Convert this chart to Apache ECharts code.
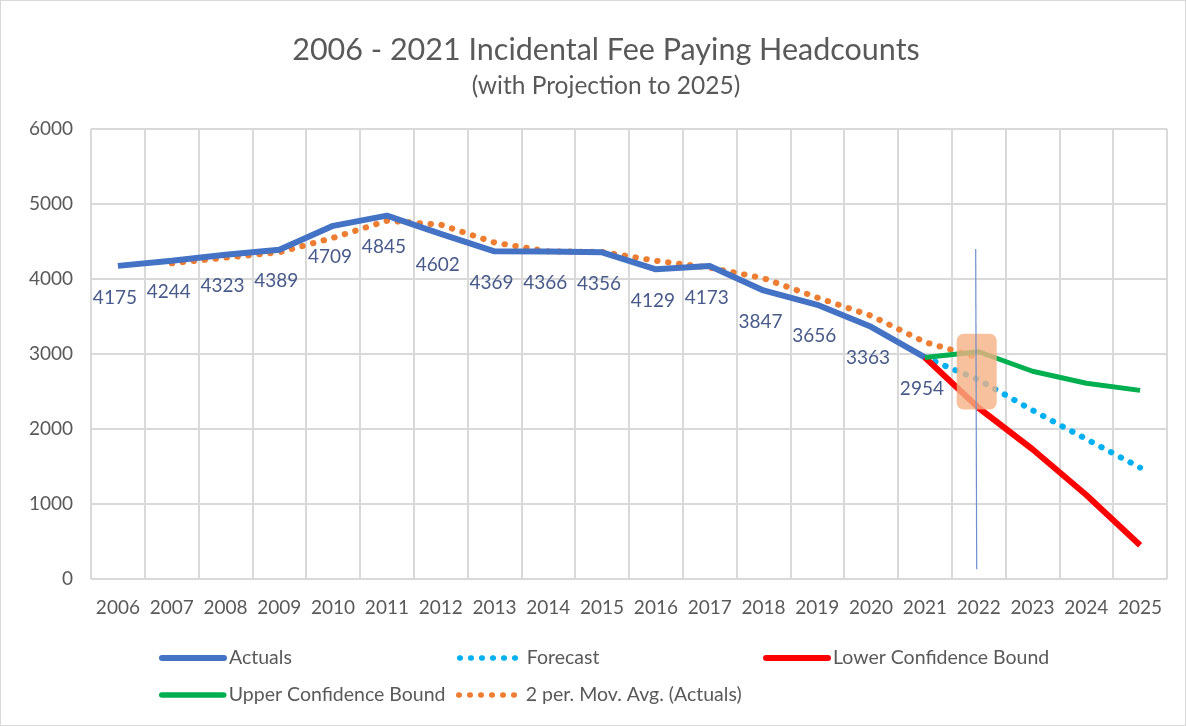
<!DOCTYPE html>
<html>
<head>
<meta charset="utf-8">
<script src="https://cdn.jsdelivr.net/npm/echarts@6/dist/echarts.min.js"></script>
<style>
    * {
        margin: 0;
        padding: 0;
    }
    body {
        background: #ffffff;
    }
    #chart {
        width: 1186px;
        height: 726px;
        box-sizing: border-box;
        border: 1px solid #d9d9d9;
    }
</style>
</head>
<body>
<div id="chart"></div>
<script>
// years on the category axis
const years = ['2006', '2007', '2008', '2009', '2010', '2011', '2012', '2013', '2014', '2015',
    '2016', '2017', '2018', '2019', '2020', '2021', '2022', '2023', '2024', '2025'];

// actual headcounts 2006 - 2021
const actuals = [4175, 4244, 4323, 4389, 4709, 4845, 4602, 4369, 4366, 4356,
    4129, 4173, 3847, 3656, 3363, 2954];

// projection years and values
const projYears = ['2021', '2022', '2023', '2024', '2025'];
const forecast = [2954, 2655, 2250, 1865, 1485];
const lowerBound = [2954, 2280, 1730, 1120, 450];
const upperBound = [2954, 3030, 2770, 2610, 2515];

// 2 period moving average, 2007 - 2022
const maYears = ['2007', '2008', '2009', '2010', '2011', '2012', '2013', '2014', '2015', '2016',
    '2017', '2018', '2019', '2020', '2021', '2022'];
const movingAvg = [4210, 4284, 4356, 4549, 4777, 4724, 4486, 4368, 4361, 4243,
    4151, 4010, 3752, 3510, 3159, 2950];

// highlight box and marker line at 2022
const markYear = '2022';
const boxRange = [3270, 2260];
const markerRange = [4400, 130];

const yTicks = [0, 1000, 2000, 3000, 4000, 5000, 6000];

const FONT = 'Lato';
const GREY = '#595959';
const DOTS = [0.5, 10.5];

const pairs = (xs, vs) => xs.map((x, i) => [x, vs[i]]);

const chart = echarts.init(document.getElementById('chart'));

const legendAt = (name, left, top, width) => ({
    data: [name],
    left: left,
    top: top,
    padding: 0,
    itemWidth: 62,
    itemHeight: 14,
    itemStyle: { opacity: 0 },
    lineStyle: { width: width, cap: 'round' },
    textStyle: { fontFamily: FONT, fontSize: 19.5, color: GREY },
    selectedMode: false
});

const option = {
    backgroundColor: '#ffffff',
    animation: false,
    title: {
        text: '2006 - 2021 Incidental Fee Paying Headcounts',
        subtext: '(with Projection to 2025)',
        left: 600,
        textAlign: 'center',
        top: 29,
        itemGap: 8,
        textStyle: { fontFamily: FONT, fontSize: 30.5, fontWeight: 'normal', color: GREY },
        subtextStyle: { fontFamily: FONT, fontSize: 24.5, color: GREY }
    },
    legend: [
        legendAt('Actuals', 158, 647, 6),
        legendAt('Forecast', 456, 647, 5.5),
        legendAt('Lower Confidence Bound', 762, 647, 6),
        legendAt('Upper Confidence Bound', 158, 684, 5.5),
        legendAt('2 per. Mov. Avg. (Actuals)', 455, 684, 5.5)
    ],
    grid: {
        left: 90,
        right: 18,
        top: 128,
        bottom: 146
    },
    xAxis: {
        type: 'category',
        data: years,
        boundaryGap: true,
        axisTick: { show: false },
        axisLine: { show: false },
        axisLabel: { fontFamily: FONT, fontSize: 19, color: GREY, margin: 19, interval: 0 },
        splitLine: { show: true, interval: 0, lineStyle: { color: '#d9d9d9', width: 2 } }
    },
    yAxis: {
        type: 'value',
        min: yTicks[0],
        max: yTicks[yTicks.length - 1],
        interval: 1000,
        axisLine: { show: false },
        axisTick: { show: false },
        axisLabel: {
            fontFamily: FONT,
            fontSize: 19,
            color: GREY,
            margin: 18,
            formatter: (v) => String(v)
        },
        splitLine: { lineStyle: { color: '#d9d9d9', width: 2 } }
    },
    series: [
        {
            name: '2 per. Mov. Avg. (Actuals)',
            type: 'line',
            data: pairs(maYears, movingAvg),
            symbol: 'none',
            lineStyle: { color: '#ed7d31', width: 6, type: DOTS, cap: 'round' },
            itemStyle: { color: '#ed7d31' },
            z: 3
        },
        {
            name: 'Actuals',
            type: 'line',
            data: actuals,
            symbol: 'circle',
            symbolSize: 0,
            showSymbol: true,
            lineStyle: { color: '#4472c4', width: 6 },
            itemStyle: { color: '#4472c4' },
            label: {
                show: true,
                position: 'bottom',
                distance: 22,
                offset: [-3, 0],
                fontFamily: FONT,
                fontSize: 19,
                color: '#475a8a'
            },
            z: 4
        },
        {
            name: 'Forecast',
            type: 'line',
            data: pairs(projYears, forecast),
            symbol: 'none',
            lineStyle: { color: '#00b0f0', width: 6, type: DOTS, cap: 'round' },
            itemStyle: { color: '#00b0f0' },
            z: 3
        },
        {
            name: 'Lower Confidence Bound',
            type: 'line',
            data: pairs(projYears, lowerBound),
            symbol: 'none',
            lineStyle: { color: '#ff0000', width: 6 },
            itemStyle: { color: '#ff0000' },
            z: 4
        },
        {
            name: 'Upper Confidence Bound',
            type: 'line',
            data: pairs(projYears, upperBound),
            symbol: 'none',
            lineStyle: { color: '#00b050', width: 5 },
            itemStyle: { color: '#00b050' },
            z: 4
        },
        {
            type: 'custom',
            data: [[markYear, boxRange[0], boxRange[1], markerRange[0], markerRange[1]]],
            z: 5,
            silent: true,
            renderItem: (params, api) => {
                const top = api.coord([api.value(0), api.value(1)]);
                const bottom = api.coord([api.value(0), api.value(2)]);
                const lineTop = api.coord([api.value(0), api.value(3)]);
                const lineBottom = api.coord([api.value(0), api.value(4)]);
                const w = 40;
                return {
                    type: 'group',
                    children: [
                        {
                            type: 'rect',
                            shape: { x: top[0] - w / 2 - 2, y: top[1], width: w, height: bottom[1] - top[1], r: 7 },
                            style: { fill: 'rgba(244, 177, 131, 0.8)' }
                        },
                        {
                            type: 'line',
                            shape: { x1: lineTop[0] - 3, y1: lineTop[1], x2: lineBottom[0] - 2, y2: lineBottom[1] },
                            style: { stroke: '#6f8fcf', lineWidth: 1.2 }
                        }
                    ]
                };
            }
        }
    ]
};

chart.setOption(option);
</script>
</body>
</html>
